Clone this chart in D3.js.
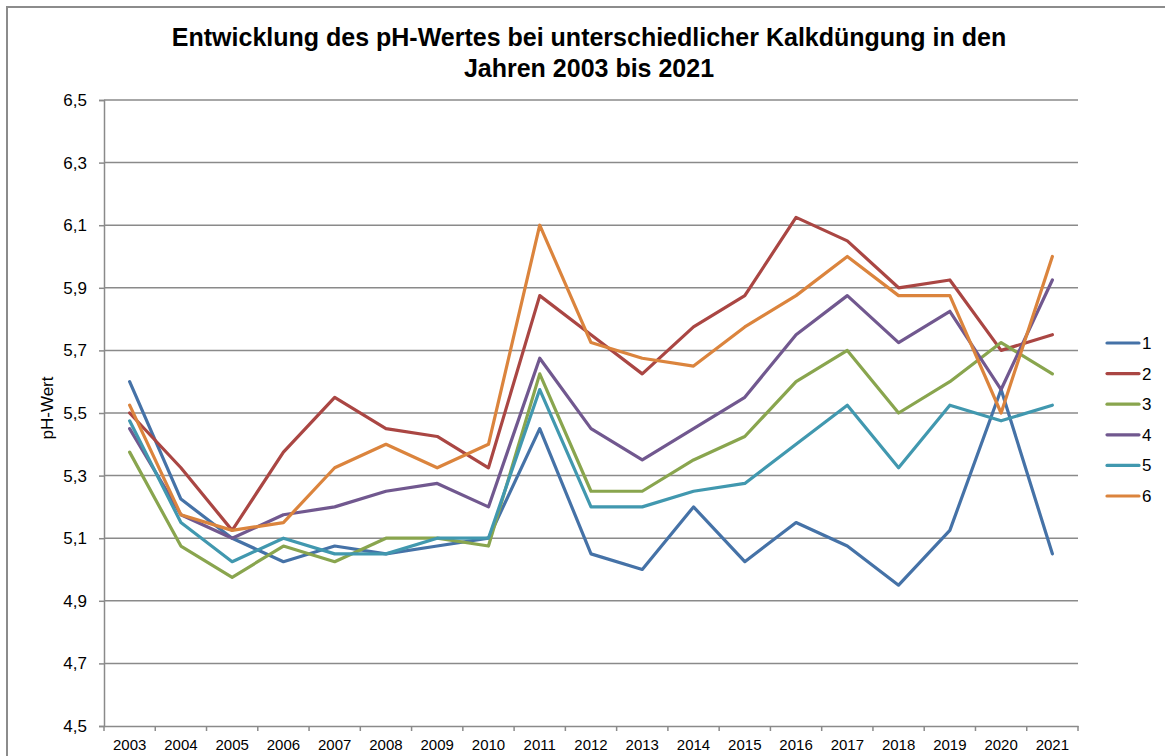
<!DOCTYPE html>
<html><head><meta charset="utf-8">
<script src="https://cdn.jsdelivr.net/npm/d3@7"></script>
<style>
body{margin:0;background:#fff;}
text{font-family:"Liberation Sans",Arial,sans-serif;}
</style></head>
<body><svg id="c" width="1165" height="756"></svg>
<script>
const years = ["2003","2004","2005","2006","2007","2008","2009","2010","2011","2012","2013","2014","2015","2016","2017","2018","2019","2020","2021"];
const seriesNames = ["1","2","3","4","5","6"];
const s1 = [5.6,5.225,5.1,5.025,5.075,5.05,5.075,5.1,5.45,5.05,5.0,5.2,5.025,5.15,5.075,4.95,5.125,5.575,5.05];
const s2 = [5.5,5.325,5.125,5.375,5.55,5.45,5.425,5.325,5.875,5.75,5.625,5.775,5.875,6.125,6.05,5.9,5.925,5.7,5.75];
const s3 = [5.375,5.075,4.975,5.075,5.025,5.1,5.1,5.075,5.625,5.25,5.25,5.35,5.425,5.6,5.7,5.5,5.6,5.725,5.625];
const s4 = [5.45,5.175,5.1,5.175,5.2,5.25,5.275,5.2,5.675,5.45,5.35,5.45,5.55,5.75,5.875,5.725,5.825,5.575,5.925];
const s5 = [5.475,5.15,5.025,5.1,5.05,5.05,5.1,5.1,5.575,5.2,5.2,5.25,5.275,5.4,5.525,5.325,5.525,5.475,5.525];
const s6 = [5.525,5.175,5.125,5.15,5.325,5.4,5.325,5.4,6.1,5.725,5.675,5.65,5.775,5.875,6.0,5.875,5.875,5.5,6.0];
const yTicks = [4.5,4.7,4.9,5.1,5.3,5.5,5.7,5.9,6.1,6.3,6.5];
const colors = ["#4572A7","#AA4643","#89A54E","#71588F","#4198AF","#DB843D"];
const titleLines = ["Entwicklung des pH-Wertes bei unterschiedlicher Kalkdüngung in den","Jahren 2003 bis 2021"];
const yTitle = "pH-Wert";

const allSeries = [s1,s2,s3,s4,s5,s6];
const svg = d3.select("#c");
const L = 104, R = 1078, T = 100, B = 726;

// outer border
svg.append("rect").attr("x",7).attr("y",7).attr("width",1170).attr("height",760)
  .attr("fill","none").attr("stroke","#8c8c8c").attr("stroke-width",2);

const x = d3.scaleBand().domain(years).range([L,R]);
const y = d3.scaleLinear().domain([4.5,6.5]).range([B,T]);

// gridlines
svg.append("g").selectAll("line").data(yTicks.slice(1)).join("line")
  .attr("x1",L).attr("x2",R).attr("y1",d=>y(d)).attr("y2",d=>y(d))
  .attr("stroke","#8a8a8a").attr("stroke-width",1.5);

// y axis
const fmt = d => d3.format(".1f")(d).replace(".",",");
const ya = svg.append("g").attr("transform",`translate(${L},0)`)
  .call(d3.axisLeft(y).tickValues(yTicks).tickFormat(fmt).tickSize(5).tickPadding(12));
ya.select(".domain").attr("stroke","#8a8a8a").attr("stroke-width",1.5);
ya.selectAll(".tick line").attr("stroke","#8a8a8a").attr("stroke-width",1.5);
ya.selectAll(".tick text").attr("font-size",17).attr("fill","#000").attr("font-family","Liberation Sans, Arial, sans-serif");

// x axis
const xa = svg.append("g").attr("transform",`translate(0,${B})`)
  .call(d3.axisBottom(x).tickSize(0).tickPadding(13));
xa.select(".domain").attr("stroke","#8a8a8a").attr("stroke-width",1.5);
xa.selectAll(".tick text").attr("font-size",15).attr("fill","#000").attr("font-family","Liberation Sans, Arial, sans-serif");
const edges = years.map(d=>x(d)).concat([x(years[years.length-1])+x.bandwidth()]);
svg.append("g").selectAll("line").data(edges).join("line")
  .attr("x1",d=>d).attr("x2",d=>d).attr("y1",B).attr("y2",B+5)
  .attr("stroke","#8a8a8a").attr("stroke-width",1.5);

// lines
const line = d3.line().x((d,i)=>x(years[i])+x.bandwidth()/2).y(d=>y(d));
svg.append("g").selectAll("path").data(allSeries).join("path")
  .attr("d",line).attr("fill","none")
  .attr("stroke",(d,i)=>colors[i]).attr("stroke-width",3.2)
  .attr("stroke-linejoin","round").attr("stroke-linecap","round");

// title
svg.append("g").selectAll("text").data(titleLines).join("text")
  .attr("x",589).attr("y",(d,i)=>46+i*31).attr("text-anchor","middle")
  .attr("font-size",25).attr("font-weight","bold").text(d=>d);

// y title
svg.append("text").attr("transform","translate(53,408) rotate(-90)")
  .attr("text-anchor","middle").attr("font-size",17).text(yTitle);

// legend
const lg = svg.append("g").selectAll("g").data(seriesNames).join("g")
  .attr("transform",(d,i)=>`translate(1107,${343+i*30.6})`);
lg.append("line").attr("x1",0).attr("x2",32).attr("stroke",(d,i)=>colors[i])
  .attr("stroke-width",3.2).attr("stroke-linecap","round");
lg.append("text").attr("x",35).attr("y",6).attr("font-size",17).text(d=>d);
</script></body></html>
